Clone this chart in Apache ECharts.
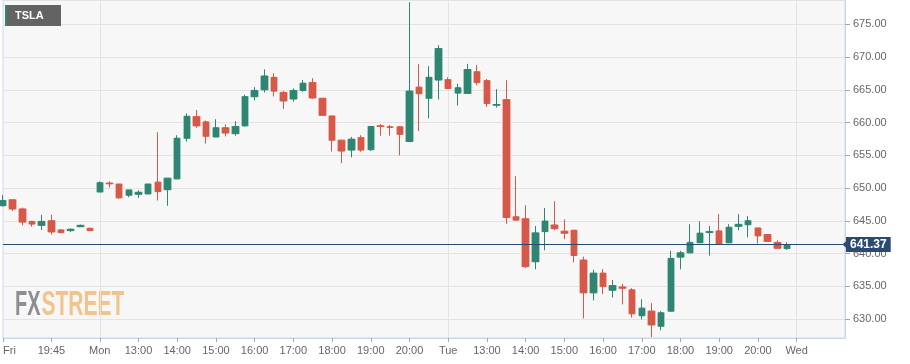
<!DOCTYPE html>
<html><head><meta charset="utf-8">
<script src="https://cdn.jsdelivr.net/npm/echarts@6/dist/echarts.min.js"></script>
<style>html,body{margin:0;padding:0;background:#fff}#c{width:910px;height:364px}</style>
</head><body><div id="c"></div>
<script>
// ---- Data (15-minute candles) ----
const sessions = [['Fri', '18:30', 10], ['Mon', '12:00', 36], ['Tue', '12:00', 36], ['Wed', '12:00', 6]];
const categories = [];
sessions.forEach(([day, start, n]) => {
  let [h, m] = start.split(':').map(Number);
  for (let i = 0; i < n; i++) {
    categories.push(day + ' ' + String(h).padStart(2, '0') + ':' + String(m).padStart(2, '0'));
    m += 15; if (m >= 60) { m -= 60; h += 1; }
  }
});

const xTickLabels = {
  'Fri 18:30': 'Fri', 'Fri 19:45': '19:45',
  'Mon 12:00': 'Mon', 'Mon 13:00': '13:00', 'Mon 14:00': '14:00', 'Mon 15:00': '15:00', 'Mon 16:00': '16:00',
  'Mon 17:00': '17:00', 'Mon 18:00': '18:00', 'Mon 19:00': '19:00', 'Mon 20:00': '20:00',
  'Tue 12:00': 'Tue', 'Tue 13:00': '13:00', 'Tue 14:00': '14:00', 'Tue 15:00': '15:00', 'Tue 16:00': '16:00',
  'Tue 17:00': '17:00', 'Tue 18:00': '18:00', 'Tue 19:00': '19:00', 'Tue 20:00': '20:00',
  'Wed 12:00': 'Wed'
};
const dayBreaks = ['Mon 12:00', 'Tue 12:00', 'Wed 12:00'];

const openP = [647.3, 648.2, 646.8, 644.9, 644.3, 645.0, 643.6, 643.5, 644.1, 643.85,
  649.4, 650.75, 650.6, 648.9, 649.05, 649.1, 650.9, 649.75, 651.4, 657.6,
  660.9, 660.1, 657.8, 659.2, 658.3, 659.5, 663.95, 665.0, 666.9, 664.6,
  663.6, 664.9, 666.1, 663.7, 661.0, 657.3, 655.8, 657.7, 655.85, 659.5,
  659.35, 659.35, 657.1, 665.4, 663.7, 666.5, 666.55, 664.5, 664.45, 667.75,
  666.4, 662.65, 663.5, 645.6, 645.3, 638.75, 643.35, 644.35, 643.4, 643.55,
  639.0, 634.0, 637.0, 634.4, 634.9, 634.45, 630.5, 631.2, 628.9, 631.2,
  639.45, 640.1, 641.65, 643.2, 643.45, 641.65, 644.15, 644.4, 643.9, 642.9,
  641.7, 640.75];
const closeP = [648.1, 646.8, 644.8, 644.5, 644.9, 643.3, 643.2, 643.7, 644.3, 643.5,
  650.8, 650.65, 648.5, 649.7, 649.35, 650.6, 649.45, 651.5, 657.6, 660.95,
  659.5, 657.9, 659.2, 658.4, 659.4, 663.95, 664.9, 667.1, 664.8, 663.3,
  664.9, 666.0, 663.75, 661.1, 657.3, 655.65, 657.45, 655.8, 659.4, 659.4,
  659.25, 658.2, 664.8, 664.4, 666.9, 671.3, 665.2, 665.3, 668.1, 666.1,
  662.9, 662.75, 645.5, 645.1, 638.0, 643.15, 644.95, 643.8, 643.1, 639.7,
  634.0, 637.0, 634.95, 635.1, 634.7, 630.8, 631.65, 629.1, 630.95, 639.25,
  640.1, 641.7, 643.1, 643.35, 641.5, 644.0, 644.45, 645.0, 642.7, 641.85,
  640.8, 641.37];
const lowP = [647.2, 646.5, 644.3, 644.1, 643.6, 642.9, 643.1, 643.3, 644.1, 643.45,
  649.4, 650.1, 648.4, 648.6, 648.5, 649.1, 648.1, 647.3, 651.4, 657.1,
  659.2, 656.8, 657.8, 657.9, 658.0, 659.4, 663.4, 664.6, 664.0, 662.1,
  663.2, 664.7, 663.7, 661.1, 655.6, 653.8, 654.7, 655.55, 655.7, 658.0,
  658.0, 655.0, 657.1, 658.7, 660.65, 663.55, 665.1, 662.6, 664.45, 665.7,
  662.4, 662.3, 644.55, 645.1, 637.8, 637.6, 640.5, 643.55, 642.2, 638.65,
  630.1, 632.85, 633.8, 633.3, 632.25, 630.25, 629.95, 627.25, 628.3, 631.2,
  637.6, 640.1, 641.65, 639.7, 641.5, 641.65, 643.55, 642.5, 641.55, 641.85,
  640.8, 640.6];
const highP = [648.9, 648.2, 647.0, 645.0, 645.9, 645.9, 643.7, 643.8, 644.4, 643.9,
  651.0, 651.0, 650.6, 649.7, 649.65, 650.6, 658.5, 651.5, 658.05, 661.4,
  661.9, 660.3, 660.5, 659.7, 660.2, 664.25, 665.4, 668.1, 667.5, 664.8,
  665.2, 666.5, 666.75, 663.7, 661.0, 657.3, 657.8, 658.05, 659.4, 659.75,
  659.6, 659.4, 678.35, 668.9, 668.6, 671.8, 666.9, 665.9, 668.95, 668.8,
  666.65, 665.1, 666.45, 651.8, 647.35, 644.2, 646.95, 648.0, 645.2, 643.55,
  639.5, 637.5, 637.6, 635.95, 635.35, 634.7, 633.0, 632.4, 631.2, 640.4,
  640.4, 644.45, 644.9, 644.2, 646.0, 644.45, 646.0, 645.7, 643.9, 642.9,
  642.0, 641.7];
const lastPrice = 641.37;
const symbolName = 'TSLA';

// ---- Chart ----
const ohlc = openP.map((o, i) => [o, closeP[i], lowP[i], highP[i]]);
const UP = '#2e8571', DOWN = '#d65848', UP_L = '#a3cbc1', DOWN_L = '#efb6ad', NAVY = '#2b4a72';
const FONT = '"Liberation Sans", Arial, sans-serif';

const chart = echarts.init(document.getElementById('c'), null, { renderer: 'canvas' });
chart.setOption({
  animation: false,
  backgroundColor: '#ffffff',
  grid: {
    left: 0, top: 0, right: 65, bottom: 26,
    show: true, backgroundColor: '#f7f7f7', borderColor: '#ccd6eb', borderWidth: 1
  },
  xAxis: {
    type: 'category', data: categories, boundaryGap: false,
    axisLine: { show: true, lineStyle: { color: '#ccd6eb' } },
    axisTick: { show: true, length: 4, lineStyle: { color: '#a8a8a8' }, interval: (i, v) => v in xTickLabels },
    axisLabel: {
      interval: (i, v) => v in xTickLabels, formatter: v => xTickLabels[v] || '',
      color: '#666', fontSize: 11, fontFamily: FONT, margin: 7, alignMinLabel: 'left'
    },
    splitLine: { show: true, interval: (i, v) => dayBreaks.includes(v), lineStyle: { color: '#e3e3e3' } }
  },
  yAxis: {
    type: 'value', position: 'right', scale: true, min: 627.1, max: 678.71, splitNumber: 10,
    axisLine: { show: true, lineStyle: { color: '#ccd6eb' } },
    axisTick: { show: true, length: 5, lineStyle: { color: '#a8a8a8' } },
    axisLabel: {
      color: '#666', fontSize: 11, fontFamily: FONT, margin: 8,
      showMinLabel: false, showMaxLabel: false, formatter: v => v.toFixed(2)
    },
    splitLine: { show: true, lineStyle: { color: '#e3e3e3' } }
  },
  series: [
    {
      type: 'candlestick', data: ohlc, barWidth: 8, silent: true,
      itemStyle: { color: UP_L, color0: DOWN_L, borderColor: UP_L, borderColor0: DOWN_L, borderWidth: 1 }
    },
    {
      type: 'candlestick', data: ohlc, barWidth: 6,
      itemStyle: { color: UP, color0: DOWN, borderColor: UP, borderColor0: DOWN, borderWidth: 1 },
      markLine: {
        silent: true, animation: false,
        symbol: ['none', 'path://M0,10 L-5,0 L5,0 Z'], symbolSize: [9, 5], symbolOffset: [0, 0],
        lineStyle: { color: NAVY, width: 1, type: 'solid' },
        label: {
          show: true, position: 'end', distance: 1,
          formatter: p => p.value.toFixed(2),
          backgroundColor: NAVY, color: '#fff', fontWeight: 'bold', fontSize: 12, fontFamily: FONT,
          padding: [2, 4, 1, 4]
        },
        data: [{ yAxis: lastPrice }]
      }
    }
  ],
  graphic: [
    { type: 'rect', left: 5, top: 5, shape: { width: 56, height: 21 }, style: { fill: '#636363' }, z: 100 },
    { type: 'rect', left: 5, top: 5, shape: { width: 2, height: 21 }, style: { fill: UP }, z: 101 },
    { type: 'text', x: 15, y: 16, z: 101, style: { text: symbolName, fill: '#fff', font: 'bold 11px ' + FONT, verticalAlign: 'middle' } },
    { type: 'text', x: 15, y: 305.5, scaleX: 0.57, z: 0, style: { text: 'FX', fill: '#8d8e93', font: 'bold 35px ' + FONT, verticalAlign: 'middle' } },
    { type: 'text', x: 41.5, y: 305.5, scaleX: 0.6, z: 0, style: { text: 'STREET', fill: '#f1c38d', font: 'bold 35px ' + FONT, verticalAlign: 'middle' } }
  ]
});
</script></body></html>
